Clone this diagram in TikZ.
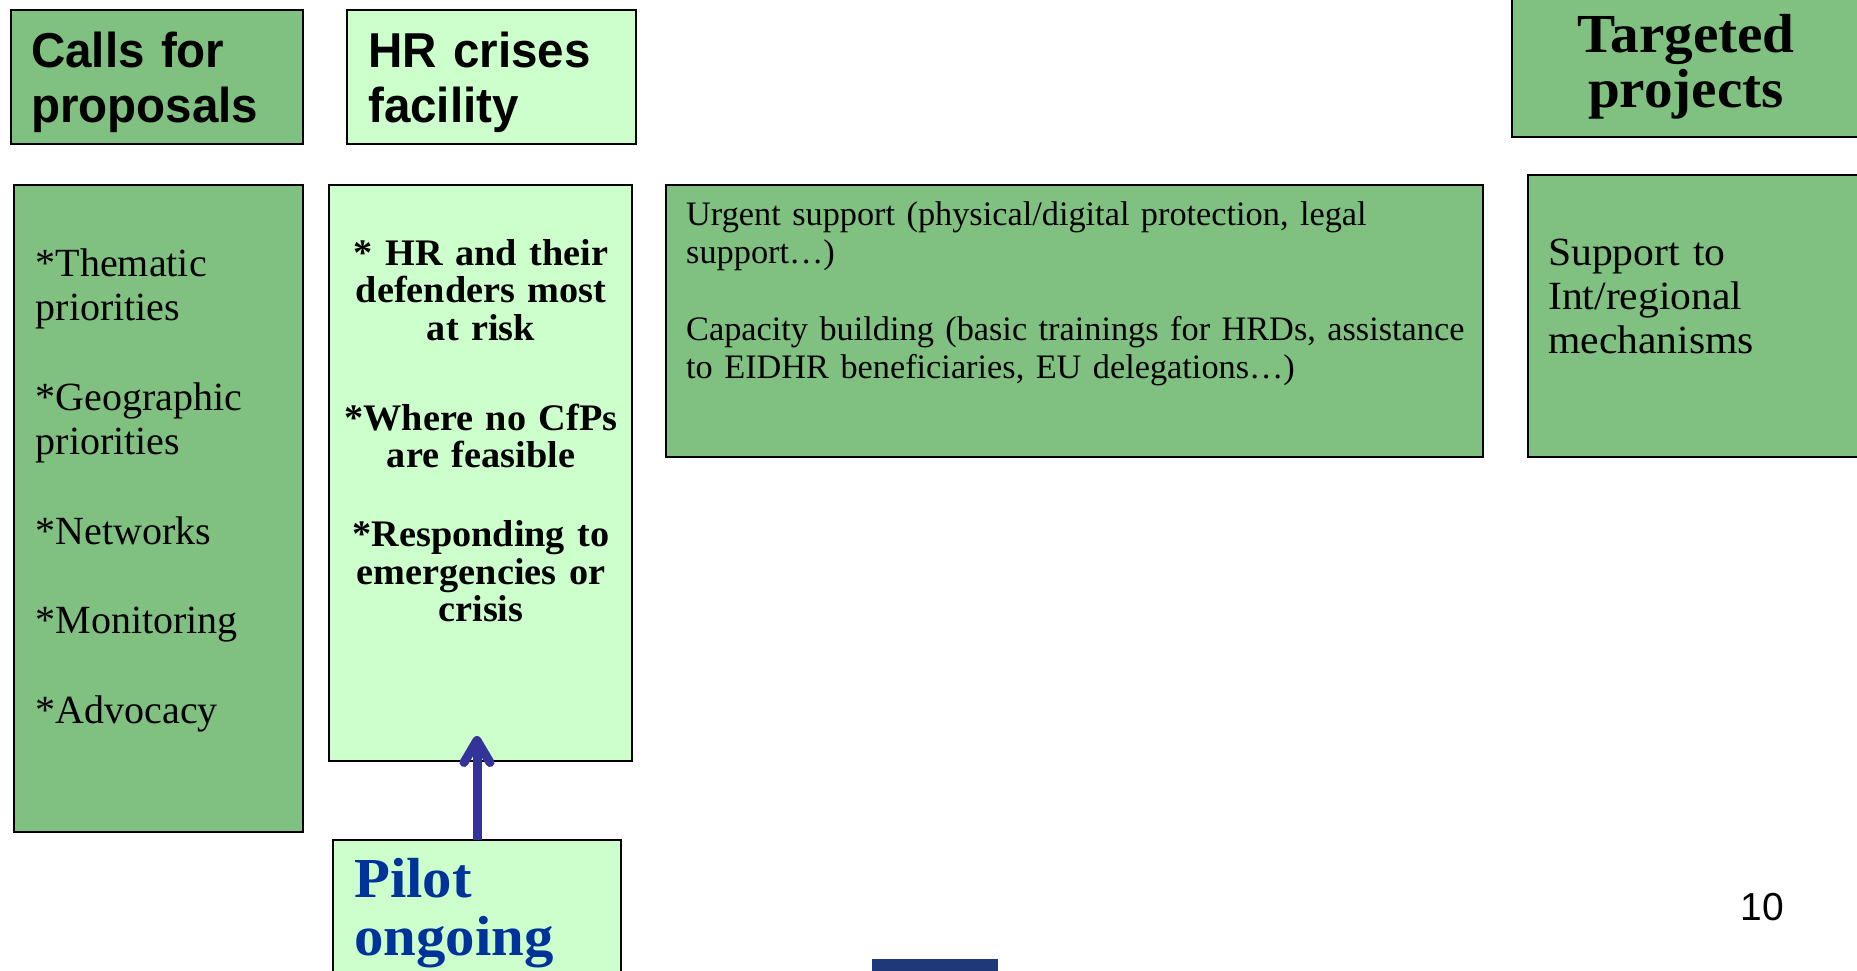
\documentclass[tikz,border=0pt]{standalone}
\usepackage{fontspec}
\setmainfont{Liberation Serif}
\newfontfamily\headfont[FakeStretch=0.97]{Liberation Sans}
\newfontfamily\wideserif[FakeStretch=1.04]{Liberation Serif}
\newfontfamily\midserif[FakeStretch=1.02]{Liberation Serif}
\newfontfamily\numfont{Liberation Sans}
\usetikzlibrary{arrows.meta}
\definecolor{dkgreen}{RGB}{128,192,128}
\definecolor{ltgreen}{RGB}{204,255,204}
\definecolor{arrowblue}{RGB}{51,51,153}
\definecolor{pilotblue}{RGB}{0,51,153}
\definecolor{navybar}{RGB}{31,56,120}
\begin{document}
\begin{tikzpicture}[x=1pt,y=-1pt,
  panel/.style={draw=black, line width=2.5pt, anchor=north west, inner sep=0pt, outer sep=0pt},
  dark/.style={panel, fill=dkgreen},
  light/.style={panel, fill=ltgreen},
  txt/.style={inner sep=0pt, anchor=base west, align=left},
  ctxt/.style={inner sep=0pt, anchor=base, align=center}]
\path[use as bounding box, clip] (0,0) rectangle (1857,970);

% headers
\node[dark,  minimum width=292pt, minimum height=134pt] (calls) at (11,10) {};
\node[light, minimum width=289pt, minimum height=134pt] (crises) at (347,10) {};
\node[dark,  minimum width=360pt, minimum height=142pt] (targeted) at (1512,-5) {};

\node[txt, text width=270pt, font=\headfont\bfseries\fontsize{49}{54.5}\selectfont] (callsT) at (31,67.5) {Calls for\\proposals};
\node[txt, text width=270pt, font=\headfont\bfseries\fontsize{49}{54.5}\selectfont] (crisesT) at (368,67.5) {HR crises\\facility};
\node[ctxt, text width=340pt, font=\wideserif\bfseries\fontsize{55}{55}\selectfont] (targetedT) at (1686,52) {Targeted\\projects};

% content panels
\node[dark,  minimum width=289pt, minimum height=647pt] (cfp) at (14,185) {};
\node[light, minimum width=303pt, minimum height=576pt] (hrl) at (329,185) {};
\node[dark,  minimum width=817pt, minimum height=272pt] (urgent) at (666,185) {};
\node[dark,  minimum width=340pt, minimum height=282pt] (support) at (1528,175) {};
\node[light, minimum width=288pt, minimum height=150pt] (pilot) at (333,840) {};

\node[txt, text width=270pt, font=\fontsize{40}{44.5}\selectfont] (cfpT) at (35.5,276)
  {*Thematic\\priorities\\[45pt]*Geographic\\priorities\\[45pt]*Networks\\[45pt]*Monitoring\\[45pt]*Advocacy};
\node[ctxt, text width=300pt, font=\midserif\bfseries\fontsize{37.5}{37.5}\selectfont] (hrlT) at (481,265)
  {* HR and their\\defenders most\\at risk\\[52.5pt]*Where no CfPs\\are feasible\\[41.5pt]*Responding to\\emergencies or\\crisis};
\node[txt, text width=800pt, font=\fontsize{34.3}{38}\selectfont] (urgentT) at (686,225)
  {Urgent support (physical/digital protection, legal\\support…)\\[39pt]Capacity building (basic trainings for HRDs, assistance\\to EIDHR beneficiaries, EU delegations…)};
\node[txt, text width=300pt, font=\wideserif\fontsize{40}{44}\selectfont] (supportT) at (1548,265)
  {Support to\\Int/regional\\mechanisms};
\node[txt, text width=270pt, text=pilotblue, font=\wideserif\bfseries\fontsize{56.5}{58}\selectfont] (pilotT) at (354,897)
  {Pilot\\ongoing};

% arrow from the pilot into the crises panel
\coordinate (tip) at (477,736);
\draw[arrowblue, line width=9pt, -{Straight Barb[length=22pt,width=26pt,round]}] (pilot.north) -- (tip);

% footer
\node[fill=navybar, anchor=north west, inner sep=0pt, minimum width=126pt, minimum height=20pt] (bar) at (872,959) {};
\node[inner sep=0pt, anchor=base, font=\numfont\fontsize{39}{39}\selectfont] (pagenum) at (1762,920) {10};
\end{tikzpicture}
\end{document}
